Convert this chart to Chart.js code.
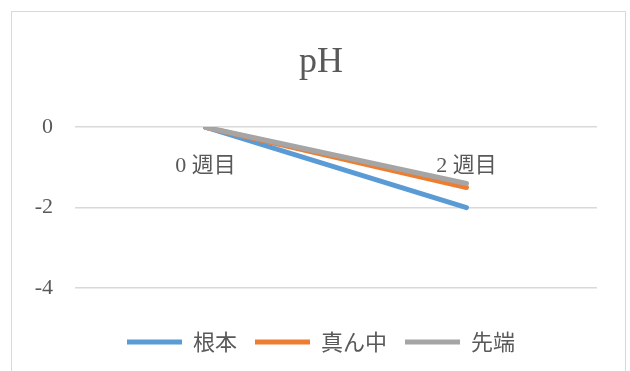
<!DOCTYPE html>
<html>
<head>
<meta charset="utf-8">
<script src="https://cdn.jsdelivr.net/npm/chart.js@4/dist/chart.umd.min.js"></script>
<style>
  html, body { margin: 0; padding: 0; background: #fff; overflow: hidden; }
  #frame { position: absolute; left: 11px; top: 11px; width: 613px; height: 400px; border: 1.5px solid #d9d9d9; }
  #wrap { position: absolute; left: 0; top: 0; width: 630px; height: 371px; }
</style>
</head>
<body>
<div id="frame"></div>
<div id="wrap"><canvas id="myChart" width="630" height="371"></canvas></div>
<script>
const weeks = ["0 週目", "2 週目"];
const rootValues = [0, -2];
const middleValues = [0, -1.5];
const tipValues = [0, -1.4];
const yTicks = [0, -2, -4];

const textColor = "#595959";
const serifFont = "'Liberation Serif', 'Noto Sans CJK JP', serif";
const gothicFont = "'Noto Sans CJK JP', sans-serif";

const makeLine = (label, values, color, order) => ({
    label: label,
    data: values,
    borderColor: color,
    backgroundColor: color,
    borderWidth: 5,
    borderCapStyle: "round",
    pointRadius: 0,
    tension: 0,
    order: order
});

const config = {
    type: "line",
    data: {
        labels: weeks,
        datasets: [
            makeLine("根本", rootValues, "#5B9BD5", 3),
            makeLine("真ん中", middleValues, "#ED7D31", 2),
            makeLine("先端", tipValues, "#A5A5A5", 1)
        ]
    },
    options: {
        responsive: false,
        animation: false,
        layout: { padding: { left: 12, right: 0, top: 30, bottom: 8 } },
        plugins: {
            title: {
                display: true,
                text: "pH",
                color: textColor,
                font: { family: serifFont, size: 36, weight: "normal", lineHeight: 1.2 },
                padding: { top: 11, bottom: 43 }
            },
            legend: {
                position: "bottom",
                // empty title only keeps a gap between the plot and the keys
                title: { display: true, text: "", font: { size: 12, lineHeight: 1 }, padding: { top: 13, bottom: 0 } },
                labels: {
                    color: textColor,
                    font: { family: gothicFont, size: 22 },
                    usePointStyle: true,
                    pointStyle: "line",
                    pointStyleWidth: 55,
                    padding: 18,
                    sort: (a, b) => a.datasetIndex - b.datasetIndex
                }
            },
            tooltip: { enabled: false }
        },
        scales: {
            x: {
                position: { y: 0 },
                offset: true,
                grid: { display: false },
                border: { display: false },
                ticks: {
                    color: textColor,
                    font: { family: serifFont, size: 22 },
                    padding: 18,
                    maxRotation: 0
                }
            },
            y: {
                min: -4,
                max: 0,
                afterBuildTicks: (axis) => {
                    axis.ticks = yTicks.map((v) => ({ value: v }));
                },
                afterFit: (axis) => { axis.width = 63; },
                grid: { color: "#d9d9d9", lineWidth: 1.5, drawTicks: false },
                border: { display: false },
                ticks: {
                    color: textColor,
                    font: { family: serifFont, size: 22 },
                    padding: 22
                }
            },
            // empty right margin so the legend centres on the whole frame
            side: {
                type: "linear",
                position: "right",
                grid: { display: false },
                border: { display: false },
                ticks: { display: false },
                afterFit: (axis) => { axis.width = 33; }
            }
        }
    }
};

new Chart(document.getElementById("myChart"), config);
</script>
</body>
</html>
